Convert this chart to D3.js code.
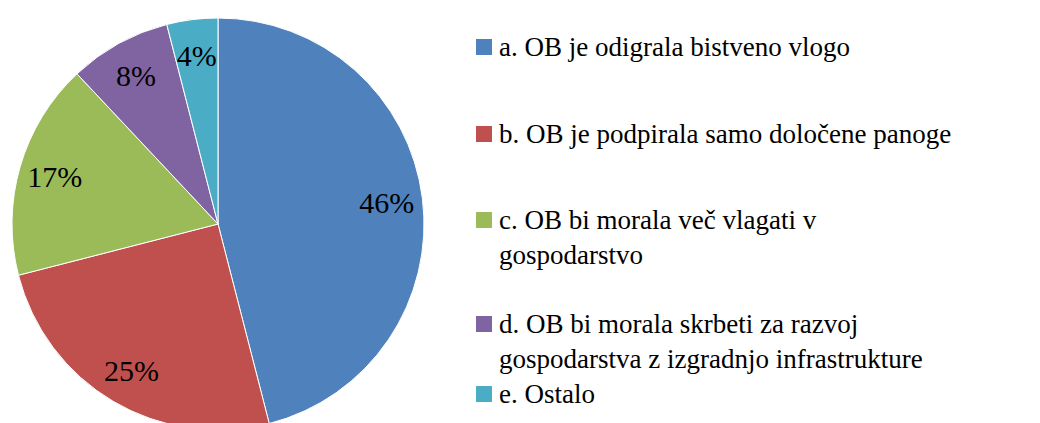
<!DOCTYPE html>
<html>
<head>
<meta charset="utf-8">
<script src="https://cdn.jsdelivr.net/npm/d3@7"></script>
<style>
  html, body { margin: 0; padding: 0; background: #fff; }
  svg { display: block; }
</style>
</head>
<body>
<svg id="chart" width="1040" height="423"></svg>
<script>
// ---- data ----
const categories = [
  "a. OB je odigrala bistveno vlogo",
  "b. OB je podpirala samo določene panoge",
  "c. OB bi morala več vlagati v gospodarstvo",
  "d. OB bi morala skrbeti za razvoj gospodarstva z izgradnjo infrastrukture",
  "e. Ostalo"
];
const legendLines = [
  ["a. OB je odigrala bistveno vlogo"],
  ["b. OB je podpirala samo določene panoge"],
  ["c. OB bi morala več vlagati v", "gospodarstvo"],
  ["d. OB bi morala skrbeti za razvoj", "gospodarstva z izgradnjo infrastrukture"],
  ["e. Ostalo"]
];
const values = [46, 25, 17, 8, 4];
const colors = ["#4F81BD", "#C0504D", "#9BBB59", "#8064A2", "#4BACC6"];

// ---- layout ----
const FONT = "'Liberation Serif', 'Times New Roman', Tinos, serif";
const cx = 218, cy = 224, R = 206;
const labelR = 170;
const legendX = 476, legendTextX = 499;
const legendBaselines = [56, 143, 229, 333, 403];
const lineH = 35;

const svg = d3.select("#chart");
const total = d3.sum(values);

const pie = d3.pie().sort(null).value(d => d)(values);
const arc = d3.arc().innerRadius(0).outerRadius(R);
const labelArc = d3.arc().innerRadius(labelR).outerRadius(labelR);

const g = svg.append("g").attr("transform", `translate(${cx},${cy})`);
g.selectAll("path.slice")
  .data(pie)
  .join("path")
  .attr("class", "slice")
  .attr("d", arc)
  .attr("fill", (d, i) => colors[i])
  .attr("stroke", "#fff")
  .attr("stroke-width", 1);

g.selectAll("text.lbl")
  .data(pie)
  .join("text")
  .attr("class", "lbl")
  .attr("transform", d => `translate(${labelArc.centroid(d)})`)
  .attr("text-anchor", "middle")
  .attr("dy", "0.35em")
  .attr("font-family", FONT)
  .attr("font-size", 30)
  .attr("fill", "#000")
  .text(d => Math.round(d.data / total * 100) + "%");

// ---- legend ----
const leg = svg.append("g");
legendLines.forEach((lines, i) => {
  const y = legendBaselines[i];
  leg.append("rect")
    .attr("x", legendX).attr("y", y - 17)
    .attr("width", 16).attr("height", 16)
    .attr("fill", colors[i]);
  const t = leg.append("text")
    .attr("x", legendTextX).attr("y", y)
    .attr("font-family", FONT)
    .attr("font-size", 27)
    .attr("fill", "#000");
  lines.forEach((ln, j) => {
    t.append("tspan").attr("x", legendTextX).attr("y", y + j * lineH).text(ln);
  });
});
</script>
</body>
</html>
